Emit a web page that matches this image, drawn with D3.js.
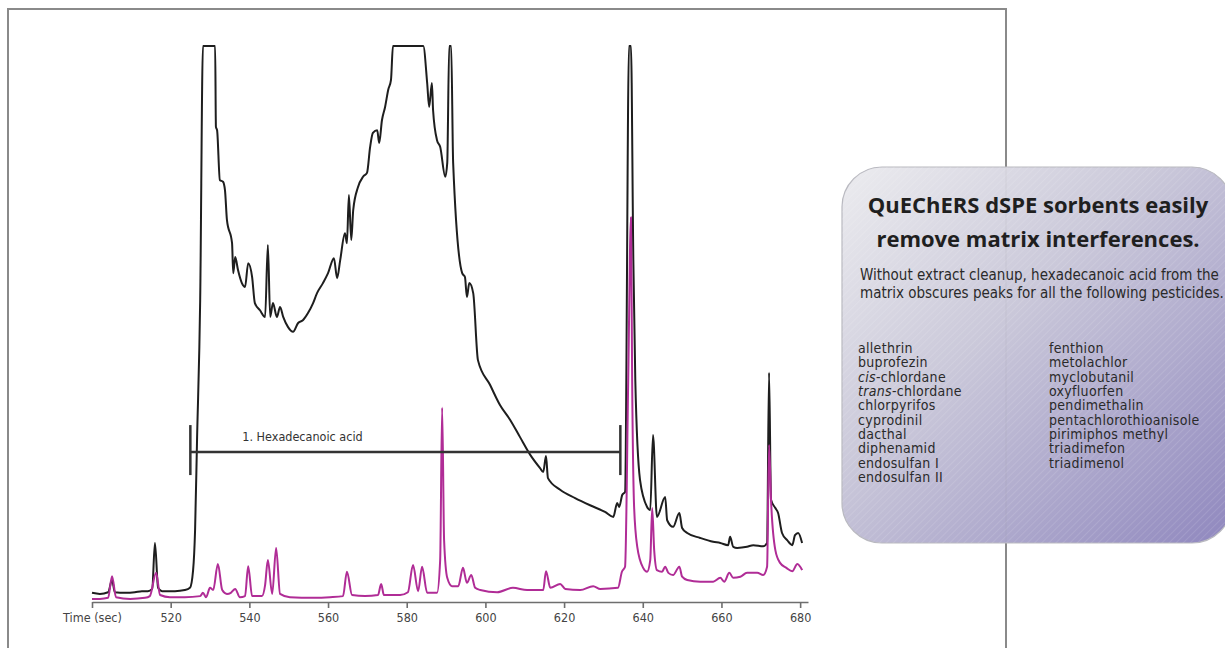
<!DOCTYPE html>
<html>
<head>
<meta charset="utf-8">
<script src="https://cdn.jsdelivr.net/npm/d3@7"></script>
<style>
  body { margin: 0; background: #fff; }
  svg { display: block; }
  .cond { font-family: "Liberation Sans Narrow", "DejaVu Sans Condensed", "Roboto Condensed", sans-serif; font-stretch: condensed; }
</style>
</head>
<body>
<svg id="chart" width="1225" height="648"></svg>
<script>
// time (sec), signal (% of full scale, 100 = detector clipped)
const blackTrace = [
  [500,1.3],[502,1.1],[504.1,1.4],[505.1,3.6],[505.8,1.4],[508.4,1.3],[510.9,1.4],[512.7,1.6],[514.2,1.6],[515.3,2.0],
  [516,10.3],[516.8,2.2],[517.8,1.6],[521.1,1.6],[523.6,1.8],[524.9,2.2],[525.7,5.4],[526.2,12.6],[526.7,28.9],[527.5,54.2],
  [528.2,100],[531.3,100],[531.5,85.4],[531.8,84.8],[532.5,75.8],[533.3,75.5],[533.8,74.0],[534.3,68.6],[535.6,64.4],[535.9,59.0],
  [536.4,61.9],[537.1,59.6],[538.1,57.2],[538.9,56.5],[539.7,60.8],[540.7,58.3],[541.4,53.6],[542.7,52.3],[544,51.1],[544.7,64.1],
  [545.3,51.1],[546,53.6],[547,51.1],[547.8,52.9],[548.6,51.1],[549.8,49.3],[551.1,48.4],[552.4,50.0],[553.6,50.5],[554.9,51.8],
  [556.2,53.6],[557.2,55.4],[558.7,57.2],[560,59.0],[561.5,61.7],[562.3,58.1],[563.1,61.4],[564.3,66.2],[564.8,64.4],[565.3,73.1],
  [565.9,65.0],[566.4,70.4],[567.6,74.5],[568.9,76.4],[569.9,77.1],[570.7,81.8],[571.4,84.3],[572.5,84.8],[573,82.5],[573.7,86.6],
  [574.5,89.0],[575.3,92.1],[576,93.9],[576.5,100],[584.2,100],[585.2,93.3],[585.7,89.0],[586.4,93.3],[586.7,88.4],[587.7,83.0],
  [588.5,81.8],[589.8,76.4],[590.3,78.9],[590.8,100],[591.3,100],[591.8,78.9],[594.1,59.0],[594.8,58.3],[595.3,54.7],[595.9,57.2],
  [596.9,55.4],[598.1,43.3],[601.2,38.8],[603.7,35.2],[606.3,32.5],[608.8,29.4],[611.4,26.2],[613.9,23.8],[614.7,23.1],[615.4,26.0],
  [615.9,22.0],[619,19.9],[622.8,18.4],[626.6,17.1],[630.4,15.9],[632.5,15.0],[633.5,17.5],[634,16.8],[634.8,19.0],[635.5,19.5],
  [636.5,100],[637,100],[637.6,61.4],[638.1,39.7],[639.3,21.7],[641.1,16.8],[641.9,16.2],[642.6,29.8],[643.6,15.0],[645.7,18.6],
  [646.2,14.4],[647.7,13.2],[649.3,15.7],[650,13.0],[651.3,12.1],[654.6,11.2],[657.9,10.5],[659.7,10.3],[661.7,9.9],[662.2,11.4],
  [663,9.6],[664,9.4],[666.5,9.6],[668.1,9.9],[670.6,9.7],[671.6,10.3],[672.1,41.0],[672.6,18.1],[673.7,16.6],[674.4,15.7],
  [675.4,12.1],[676.7,10.8],[678,9.9],[678.7,11.7],[679.5,12.1],[680.5,10.3]
]

const cleanTrace = [
  [500,0.2],[502,0.2],[504.1,0.4],[505.1,4.3],[506.1,0.5],[509.7,0.2],[513.5,0.4],[514.7,0.7],[516.3,4.9],[517.3,0.9],
  [519.8,0.5],[523.6,0.5],[527.5,0.7],[528.2,1.3],[529,0.5],[530,2.2],[530.8,1.8],[532,6.5],[533.1,1.8],[534.3,1.1],
  [535.3,1.3],[536.4,2.0],[537.6,0.5],[538.9,0.7],[539.7,6.1],[540.7,0.7],[543.2,0.7],[544,2.7],[544.7,7.2],[545.8,1.1],
  [546.8,9.4],[547.8,1.1],[550.3,0.5],[556.2,0.4],[560.5,0.5],[563.8,0.7],[564.8,5.1],[566.1,0.9],[569.4,0.7],[572.7,0.9],
  [573.5,2.9],[574.2,0.9],[578.3,0.9],[580.3,1.4],[581.6,6.3],[582.9,1.6],[583.9,6.0],[585.2,1.3],[587.7,1.3],[588.5,7.2],
  [589,34.7],[589.5,10.8],[590.3,4.0],[591.5,2.5],[593.1,2.5],[594.3,5.8],[595.3,3.1],[596.4,4.5],[597.4,2.2],[598.7,1.8],
  [603,1.4],[607,2.2],[610.6,1.8],[614.7,1.8],[615.4,5.2],[616.5,2.2],[619,2.9],[620.3,2.0],[624.1,1.8],[627.4,2.5],
  [629.2,2.0],[633.7,2.2],[634.7,5.1],[635.5,6.0],[636.3,39.7],[637,69.1],[637.3,39.7],[637.8,16.8],[638.6,9.6],[640.1,5.8],
  [641.1,5.1],[641.9,7.2],[642.4,16.6],[642.9,9.0],[643.6,5.4],[644.9,5.1],[645.7,6.0],[646.5,4.9],[647.7,4.5],[649.3,6.0],
  [650,4.2],[651.3,3.6],[654.6,3.3],[657.9,3.3],[659.7,4.0],[660.7,3.3],[662,4.9],[663,4.0],[664.8,4.2],[666.5,4.9],
  [669.1,4.9],[670.6,4.5],[671.6,6.0],[672.1,28.0],[672.6,18.1],[673.7,9.0],[674.9,6.7],[676.5,5.8],[678,5.2],[679.3,6.5],
  [680.5,5.4]
]

const timeTicks = [500, 520, 540, 560, 580, 600, 620, 640, 660, 680]
const hexRange = [525, 634.3]
const hexLevel = 26.7
const hexLabel = '1. Hexadecanoic acid'

const title = ['QuEChERS dSPE sorbents easily', 'remove matrix interferences.']
const intro = ['Without extract cleanup, hexadecanoic acid from the', 'matrix obscures peaks for all the following pesticides.']
const pesticidesLeft = ['allethrin', 'buprofezin', 'cis-chlordane', 'trans-chlordane', 'chlorpyrifos', 'cyprodinil', 'dacthal', 'diphenamid', 'endosulfan I', 'endosulfan II']
const pesticidesRight = ['fenthion', 'metolachlor', 'myclobutanil', 'oxyfluorfen', 'pendimethalin', 'pentachlorothioanisole', 'pirimiphos methyl', 'triadimefon', 'triadimenol']
const italicPrefixes = ['cis', 'trans']

const svg = d3.select('#chart')

const x = d3.scaleLinear().domain([500, 682]).range([92, 808])
const y = d3.scaleLinear().domain([0, 100]).range([600, 46]).clamp(true)

// outer frame (runs off the bottom of the page)
svg.append('rect')
    .attr('x', 8).attr('y', 9)
    .attr('width', 998).attr('height', 700)
    .attr('fill', 'none')
    .attr('stroke', '#8a8a8a')
    .attr('stroke-width', 2)

const line = d3.line()
    .curve(d3.curveMonotoneX)
    .x(d => x(d[0]))
    .y(d => y(d[1]))

svg.append('path')
    .datum(blackTrace)
    .attr('d', line)
    .attr('fill', 'none')
    .attr('stroke', '#1e1e1e')
    .attr('stroke-width', 2)
    .attr('stroke-linejoin', 'round')

svg.append('path')
    .datum(cleanTrace)
    .attr('d', line)
    .attr('fill', 'none')
    .attr('stroke', '#b02c96')
    .attr('stroke-width', 2)
    .attr('stroke-linejoin', 'round')

// hexadecanoic acid range bar
const bar = svg.append('g').attr('stroke', '#333').attr('stroke-width', 2.5)
bar.append('line')
    .attr('x1', x(hexRange[0])).attr('x2', x(hexRange[1]))
    .attr('y1', y(hexLevel)).attr('y2', y(hexLevel))
bar.selectAll('.end')
    .data(hexRange)
    .enter()
    .append('line')
    .attr('class', 'end')
    .attr('x1', d => x(d)).attr('x2', d => x(d))
    .attr('y1', y(hexLevel) - 27).attr('y2', y(hexLevel) + 23)

svg.append('text')
    .attr('class', 'cond')
    .attr('x', x(538.2))
    .attr('y', y(hexLevel) - 11)
    .attr('font-size', 12.5)
    .attr('fill', '#333')
    .text(hexLabel)

// time axis
const axis = d3.axisBottom(x)
    .tickValues(timeTicks)
    .tickSize(6)
    .tickSizeOuter(0)
    .tickFormat(d => d === 500 ? 'Time (sec)' : d)

const gAxis = svg.append('g')
    .attr('transform', 'translate(0,' + 602 + ')')
    .call(axis)
gAxis.select('.domain').attr('stroke', '#6e6e6e').attr('stroke-width', 1.6)
gAxis.selectAll('.tick line').attr('stroke', '#6e6e6e').attr('stroke-width', 1.6)
gAxis.selectAll('.tick text')
    .attr('class', 'cond')
    .attr('font-size', 12.5)
    .attr('fill', '#444')
    .attr('dy', '0.9em')

// callout box
const defs = svg.append('defs')
const grad = defs.append('linearGradient')
    .attr('id', 'boxFill')
    .attr('x1', 0).attr('y1', 0).attr('x2', 1).attr('y2', 1)
grad.append('stop').attr('offset', '0%').attr('stop-color', '#ececef')
grad.append('stop').attr('offset', '40%').attr('stop-color', '#cbc9da')
grad.append('stop').attr('offset', '100%').attr('stop-color', '#8f87be')

const hatch = defs.append('pattern')
    .attr('id', 'hatch')
    .attr('patternUnits', 'userSpaceOnUse')
    .attr('width', 5).attr('height', 5)
    .attr('patternTransform', 'rotate(45)')
hatch.append('line')
    .attr('x1', 0).attr('y1', 0).attr('x2', 0).attr('y2', 5)
    .attr('stroke', '#fff').attr('stroke-width', 1).attr('stroke-opacity', 0.22)

const box = { x: 842, y: 167, w: 390, h: 376, r: 40 }
svg.append('rect')
    .attr('x', box.x).attr('y', box.y)
    .attr('width', box.w).attr('height', box.h)
    .attr('rx', box.r)
    .attr('fill', 'url(#boxFill)')
    .attr('stroke', '#b9b9c0')
    .attr('stroke-width', 1.2)
svg.append('rect')
    .attr('x', box.x).attr('y', box.y)
    .attr('width', box.w).attr('height', box.h)
    .attr('rx', box.r)
    .attr('fill', 'url(#hatch)')
// faint frame line showing through the box
svg.append('line')
    .attr('x1', 1006).attr('x2', 1006)
    .attr('y1', box.y + 1).attr('y2', box.y + box.h - 1)
    .attr('stroke', '#8a8a8a').attr('stroke-opacity', 0.12)

svg.selectAll('.title')
    .data(title)
    .enter()
    .append('text')
    .attr('class', 'title')
    .attr('x', 1038)
    .attr('y', (d, i) => 213 + i * 34)
    .attr('text-anchor', 'middle')
    .attr('font-family', '"Open Sans", "Lato", sans-serif')
    .attr('font-weight', 700)
    .attr('font-size', 22)
    .attr('fill', '#1f1f1f')
    .text(d => d)

svg.selectAll('.intro')
    .data(intro)
    .enter()
    .append('text')
    .attr('class', 'cond')
    .attr('x', 860)
    .attr('y', (d, i) => 280 + i * 18)
    .attr('font-size', 15)
    .attr('fill', '#2a2a2a')
    .text(d => d)

const draw_list = (items, x0) => {
    items.forEach((name, i) => {
        const t = svg.append('text')
            .attr('class', 'cond')
            .attr('x', x0)
            .attr('y', 353 + i * 14.35)
            .attr('font-size', 14)
            .attr('letter-spacing', 0.3)
            .attr('fill', '#2a2a2a')
        const pre = italicPrefixes.find(p => name.startsWith(p + '-'))
        if (pre) {
            t.append('tspan').attr('font-style', 'italic').text(pre)
            t.append('tspan').text(name.slice(pre.length))
        } else {
            t.text(name)
        }
    })
}
draw_list(pesticidesLeft, 858)
draw_list(pesticidesRight, 1049)
</script>
</body>
</html>
